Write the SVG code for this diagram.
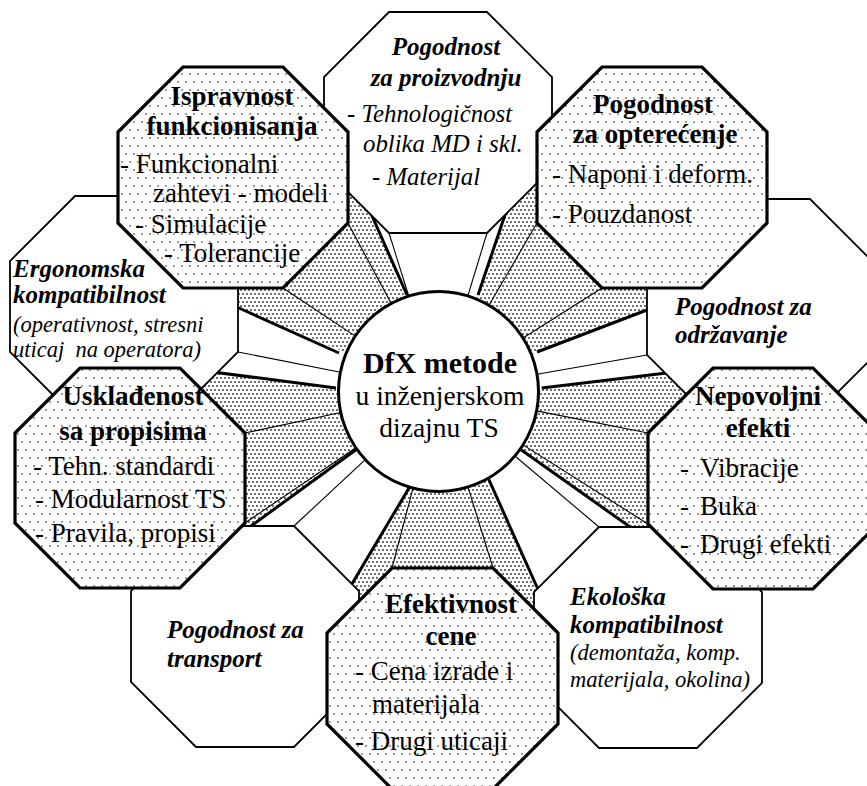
<svg xmlns="http://www.w3.org/2000/svg" width="867" height="786" viewBox="0 0 867 786">
  <defs>
    <!-- sparse dot screen for the emphasised octagons -->
    <pattern id="dotsSparse" width="8" height="16" patternUnits="userSpaceOnUse">
      <rect width="8" height="16" fill="#fff"/>
      <circle cx="2" cy="2" r="0.8" fill="#222"/>
      <circle cx="6" cy="10" r="0.8" fill="#222"/>
    </pattern>
    <!-- dense dot screen for the spokes -->
    <pattern id="dotsDense" width="4" height="8" patternUnits="userSpaceOnUse">
      <rect width="4" height="8" fill="#fff"/>
      <circle cx="1" cy="2" r="0.95" fill="#333"/>
      <circle cx="3" cy="6" r="0.95" fill="#333"/>
    </pattern>
    <style>
      .oct-w { fill: #fff; stroke: #000; stroke-width: 1.8; stroke-linejoin: miter; }
      .oct-d { fill: url(#dotsSparse); stroke: #000; stroke-width: 3.2; stroke-linejoin: miter; }
      .spoke { fill: url(#dotsDense); stroke: none; }
      .edge { stroke: #000; stroke-width: 3; fill: none; }
      .ridge { stroke: #000; stroke-width: 1.1; fill: none; }
      text { font-family: "Liberation Serif", "Times New Roman", serif; fill: #000; }
      .hd { font-weight: bold; font-size: 27px; }
      .hi { font-weight: bold; font-style: italic; font-size: 25px; }
      .tx { font-size: 27px; }
      .ti { font-style: italic; font-size: 24.8px; }
      .tp { font-style: italic; font-size: 22.5px; }
    </style>
  </defs>

  <!-- connectors: dotted and plain spokes between the hub and the octagons -->
  <g id="connectors">
    <polygon class="spoke" points="438.5,391.5 230,304 225,285 340,140 360,180 365,200 407,295"/>
    <polygon class="spoke" points="438.5,391.5 336,388 205,371 150,450 195,565 240,534 357,449"/>
    <polygon class="spoke" points="438.5,391.5 409.6,487 340,604 380,640 500,640 545,605 488.4,478.5"/>
    <polygon class="spoke" points="438.5,391.5 520,449 640,534 700,540 730,420 675,372 541.7,388"/>
    <polygon class="spoke" points="438.5,391.5 537,352 660,305 660,285 560,140 520,180 510,200 478,295"/>

    <!-- spoke borders -->
    <line class="edge" x1="407" y1="295" x2="365" y2="200"/>
    <line class="edge" x1="339" y1="353" x2="230" y2="304"/>
    <line class="edge" x1="336" y1="388" x2="205" y2="371"/>
    <line class="edge" x1="357" y1="449" x2="240" y2="534"/>
    <line class="edge" x1="409.6" y1="487" x2="340" y2="604"/>
    <line class="edge" x1="488.4" y1="478.5" x2="545" y2="605"/>
    <line class="edge" x1="520" y1="449" x2="640" y2="534"/>
    <line class="edge" x1="541.7" y1="388" x2="675" y2="372"/>
    <line class="edge" x1="537" y1="352" x2="660" y2="305"/>
    <line class="edge" x1="478" y1="295" x2="510" y2="200"/>

    <!-- ridge lines from octagon corners to the hub -->
    <line class="ridge" x1="283" y1="288" x2="355.3" y2="336.1"/>
    <line class="ridge" x1="348" y1="223" x2="391.2" y2="303.4"/>
    <line class="ridge" x1="238" y1="352" x2="340.4" y2="372.2"/>
    <line class="ridge" x1="245" y1="433" x2="340.7" y2="412.5"/>
    <line class="ridge" x1="245" y1="523" x2="355.8" y2="447.7"/>
    <line class="ridge" x1="294" y1="526" x2="365.3" y2="459.6"/>
    <line class="ridge" x1="392" y1="568" x2="413" y2="488.2"/>
    <line class="ridge" x1="493" y1="568" x2="468" y2="487.1"/>
    <line class="ridge" x1="599" y1="527" x2="514.9" y2="456"/>
    <line class="ridge" x1="648" y1="524" x2="523" y2="444.9"/>
    <line class="ridge" x1="648" y1="433" x2="536.6" y2="410.9"/>
    <line class="ridge" x1="647" y1="355" x2="537" y2="374.3"/>
    <line class="ridge" x1="602" y1="288" x2="523" y2="338"/>
    <line class="ridge" x1="537" y1="223" x2="489" y2="305.2"/>
    <line class="ridge" x1="389" y1="233" x2="408.7" y2="296"/>
    <line class="ridge" x1="487" y1="233" x2="467.8" y2="296"/>
  </g>

  <!-- plain octagons -->
  <g id="proizvodnja">
    <polygon class="oct-w" points="389,12 487,12 552,77 552,168 487,233 389,233 324,168 324,77"/>
    <text class="hi" x="446" y="55" text-anchor="middle">Pogodnost</text>
    <text class="hi" x="446" y="86" text-anchor="middle">za proizvodnju</text>
    <text class="ti" x="347" y="122">- Tehnologičnost</text>
    <text class="ti" x="363" y="152">oblika MD i skl.</text>
    <text class="ti" x="372" y="185">- Materijal</text>
  </g>
  <g id="ergonomija">
    <polygon class="oct-w" points="75,196 173,196 238,261 238,352 173,417 75,417 10,352 10,261"/>
    <text class="hi" x="13" y="277">Ergonomska</text>
    <text class="hi" x="13" y="303">kompatibilnost</text>
    <text class="tp" x="13" y="332">(operativnost, stresni</text>
    <text class="tp" x="13" y="357" xml:space="preserve">uticaj  na operatora)</text>
  </g>
  <g id="odrzavanje">
    <polygon class="oct-w" points="712,199 810,199 875,264 875,355 810,420 712,420 647,355 647,264"/>
    <text class="hi" x="675" y="315">Pogodnost za</text>
    <text class="hi" x="675" y="343">održavanje</text>
  </g>
  <g id="transport">
    <polygon class="oct-w" points="196,526 294,526 359,591 359,682 294,747 196,747 131,682 131,591"/>
    <text class="hi" x="167" y="638">Pogodnost za</text>
    <text class="hi" x="167" y="667">transport</text>
  </g>
  <g id="ekologija">
    <polygon class="oct-w" points="599,527 697,527 762,592 762,683 697,748 599,748 534,683 534,592"/>
    <text class="hi" x="570" y="605">Ekološka</text>
    <text class="hi" x="570" y="633">kompatibilnost</text>
    <text class="tp" x="570" y="660">(demontaža, komp.</text>
    <text class="tp" x="570" y="687">materijala, okolina)</text>
  </g>

  <!-- dotted octagons -->
  <g id="funkcionisanje">
    <polygon class="oct-d" points="183,67 283,67 348,132 348,223 283,288 183,288 118,223 118,132"/>
    <text class="hd" x="232" y="105" text-anchor="middle">Ispravnost</text>
    <text class="hd" x="232" y="135" text-anchor="middle">funkcionisanja</text>
    <text class="tx" x="120" y="173">- Funkcionalni</text>
    <text class="tx" x="153" y="202">zahtevi - modeli</text>
    <text class="tx" x="135" y="233">- Simulacije</text>
    <text class="tx" x="164" y="262">- Tolerancije</text>
  </g>
  <g id="opterecenje">
    <polygon class="oct-d" points="602,67 702,67 767,132 767,223 702,288 602,288 537,223 537,132"/>
    <text class="hd" x="653" y="113" text-anchor="middle">Pogodnost</text>
    <text class="hd" x="655" y="143" text-anchor="middle">za opterećenje</text>
    <text class="tx" x="552" y="183">- Naponi i deform.</text>
    <text class="tx" x="552" y="223">- Pouzdanost</text>
  </g>
  <g id="propisi">
    <polygon class="oct-d" points="80,368 180,368 245,433 245,523 180,588 80,588 15,523 15,433"/>
    <text class="hd" x="133" y="405" text-anchor="middle">Usklađenost</text>
    <text class="hd" x="133" y="440" text-anchor="middle">sa propisima</text>
    <text class="tx" x="33" y="475">- Tehn. standardi</text>
    <text class="tx" x="35" y="508">- Modularnost TS</text>
    <text class="tx" x="35" y="542">- Pravila, propisi</text>
  </g>
  <g id="efekti">
    <polygon class="oct-d" points="713,368 813,368 878,433 878,524 813,589 713,589 648,524 648,433"/>
    <text class="hd" x="758" y="405" text-anchor="middle">Nepovoljni</text>
    <text class="hd" x="758" y="437" text-anchor="middle">efekti</text>
    <text class="tx" x="680" y="477">-<tspan x="700">Vibracije</tspan></text>
    <text class="tx" x="680" y="515">-<tspan x="700">Buka</tspan></text>
    <text class="tx" x="680" y="553">-<tspan x="700">Drugi efekti</tspan></text>
  </g>
  <g id="cena">
    <polygon class="oct-d" points="392,568 493,568 558,633 558,724 493,789 392,789 327,724 327,633"/>
    <text class="hd" x="451" y="613" text-anchor="middle">Efektivnost</text>
    <text class="hd" x="451" y="645" text-anchor="middle">cene</text>
    <text class="tx" x="355" y="680">- Cena izrade i</text>
    <text class="tx" x="372" y="713">materijala</text>
    <text class="tx" x="355" y="750">- Drugi uticaji</text>
  </g>

  <!-- hub -->
  <g id="dfx">
    <circle cx="438.5" cy="391.5" r="100" fill="#fff" stroke="#000" stroke-width="3"/>
    <text x="440" y="373" text-anchor="middle" font-weight="bold" font-size="30">DfX metode</text>
    <text x="440" y="405" text-anchor="middle" font-size="27.5">u inženjerskom</text>
    <text x="439" y="437" text-anchor="middle" font-size="27.5">dizajnu TS</text>
  </g>
</svg>
